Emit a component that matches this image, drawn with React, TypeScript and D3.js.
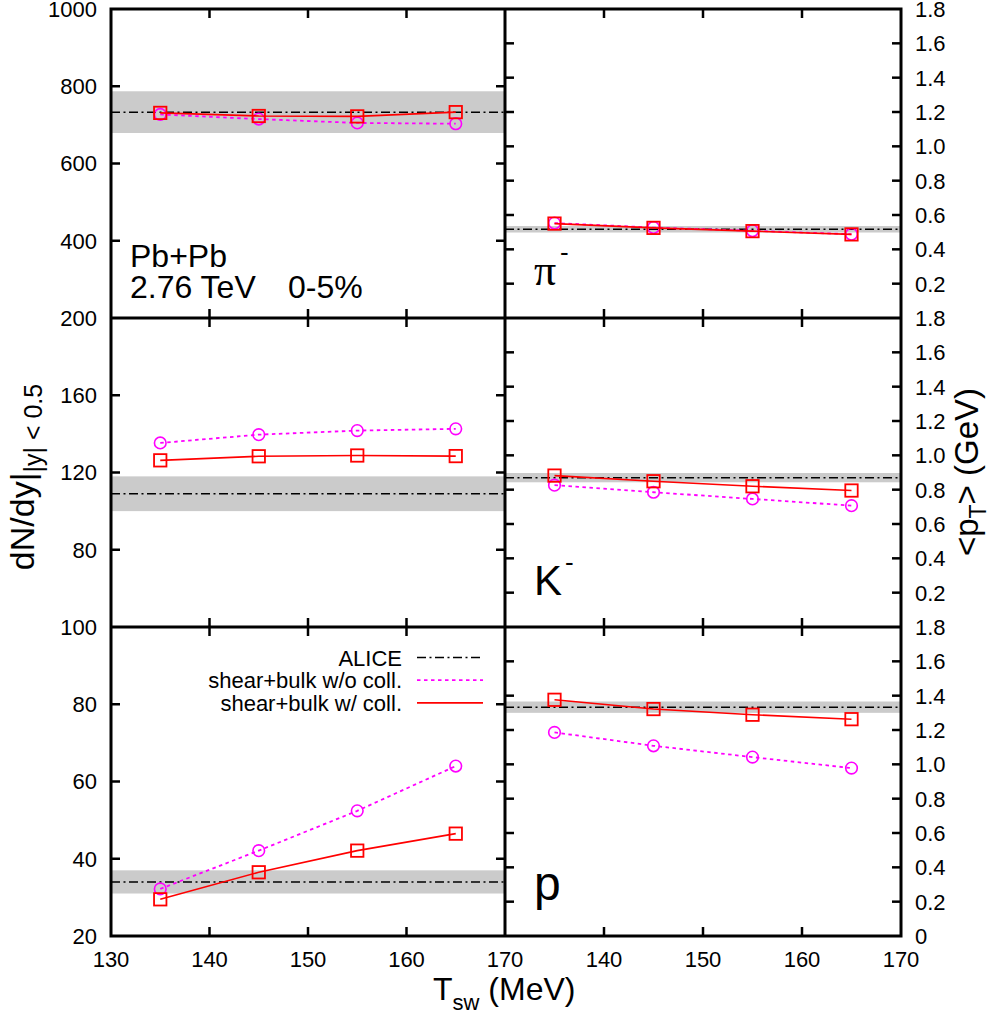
import React from 'react';
import * as d3 from 'd3';

// ---------------- data ----------------
const T_SW = [135, 145, 155, 165];
const X_TICKS = [130, 140, 150, 160, 170];

// dN/dy (left column)
const PI_YIELD_COLL = [731, 723, 722, 733];
const PI_YIELD_NOCOLL = [727, 715, 705, 703];
const K_YIELD_COLL = [126.3, 128.4, 128.8, 128.5];
const K_YIELD_NOCOLL = [135.3, 139.6, 141.7, 142.6];
const P_YIELD_COLL = [29.5, 36.5, 42.1, 46.5];
const P_YIELD_NOCOLL = [32.2, 42.1, 52.4, 64.0];

// <pT> (right column)
const PI_PT_COLL = [0.55, 0.525, 0.506, 0.487];
const PI_PT_NOCOLL = [0.553, 0.527, 0.508, 0.488];
const K_PT_COLL = [0.882, 0.849, 0.82, 0.795];
const K_PT_NOCOLL = [0.826, 0.785, 0.746, 0.707];
const P_PT_COLL = [1.376, 1.322, 1.289, 1.263];
const P_PT_NOCOLL = [1.186, 1.108, 1.042, 0.978];

// ALICE reference values (value, error)
const ALICE_YIELD = [733, 109, 34];
const ALICE_YIELD_ERR = [54, 9, 3];
const ALICE_PT = [0.517, 0.87, 1.333];
const ALICE_PT_ERR = [0.019, 0.027, 0.033];

// axis domains / ticks
const YIELD_DOMAINS: [number, number][] = [[200, 1000], [40, 200], [20, 100]];
const YIELD_TICKS = [
  [200, 400, 600, 800, 1000],
  [40, 80, 120, 160, 200],
  [20, 40, 60, 80, 100],
];
const YIELD_LABELS = [
  [400, 600, 800, 1000],
  [80, 120, 160, 200],
  [20, 40, 60, 80, 100],
];
const PT_DOMAIN: [number, number] = [0, 1.8];
const PT_TICKS = [0, 0.2, 0.4, 0.6, 0.8, 1.0, 1.2, 1.4, 1.6, 1.8];
const PT_LABELS = [
  [0.2, 0.4, 0.6, 0.8, 1.0, 1.2, 1.4, 1.6, 1.8],
  [0.2, 0.4, 0.6, 0.8, 1.0, 1.2, 1.4, 1.6, 1.8],
  [0, 0.2, 0.4, 0.6, 0.8, 1.0, 1.2, 1.4, 1.6, 1.8],
];

const LEGEND = ['ALICE', 'shear+bulk w/o coll.', 'shear+bulk w/ coll.'];

// ---------------- layout ----------------
const W = 991;
const H = 1016;
const XL0 = 111;
const XM = 505;
const XR1 = 901;
const Y_TOP = 9;
const PH = 309;
const FONT = "'Liberation Sans', Arial, Helvetica, sans-serif";
const TICK = 9;
const BAND = '#cbcbcb';
const RED = '#ff0000';
const MAG = '#ff00ff';

const xLeft = d3.scaleLinear().domain([130, 170]).range([XL0, XM]);
const xRight = d3.scaleLinear().domain([130, 170]).range([XM, XR1]);

const rows = [
  { yc: PI_YIELD_COLL, yn: PI_YIELD_NOCOLL, pc: PI_PT_COLL, pn: PI_PT_NOCOLL },
  { yc: K_YIELD_COLL, yn: K_YIELD_NOCOLL, pc: K_PT_COLL, pn: K_PT_NOCOLL },
  { yc: P_YIELD_COLL, yn: P_YIELD_NOCOLL, pc: P_PT_COLL, pn: P_PT_NOCOLL },
];

function Series({ x, y, xs, ys, kind }: any) {
  const line = d3.line<number>().x((d, i) => x(xs[i])).y((d) => y(d));
  const isColl = kind === 'coll';
  const color = isColl ? RED : MAG;
  return (
    <g>
      <path
        d={line(ys) || ''}
        fill="none"
        stroke={color}
        strokeWidth={isColl ? 1.6 : 1.8}
        strokeDasharray={isColl ? undefined : '3.5,3.5'}
      />
      {ys.map((v: number, i: number) =>
        isColl ? (
          <rect
            key={i}
            x={x(xs[i]) - 6.2}
            y={y(v) - 6.2}
            width={12.4}
            height={12.4}
            fill="none"
            stroke={color}
            strokeWidth={1.8}
          />
        ) : (
          <circle key={i} cx={x(xs[i])} cy={y(v)} r={5.8} fill="none" stroke={color} strokeWidth={1.6} />
        )
      )}
    </g>
  );
}

function Panel({ x, y, x0, x1, y0, y1, alice, err, coll, nocoll, ticks }: any) {
  const tickXs = X_TICKS.filter((t) => t > 130 && t < 170);
  const yd = y.domain();
  const tickYs = ticks.filter((t: number) => t > Math.min(...yd) + 1e-9 && t < Math.max(...yd) - 1e-9);
  return (
    <g>
      <rect x={x0} y={y(alice + err)} width={x1 - x0} height={y(alice - err) - y(alice + err)} fill={BAND} />
      <line
        x1={x0}
        x2={x1}
        y1={y(alice)}
        y2={y(alice)}
        stroke="#000"
        strokeWidth={1.5}
        strokeDasharray="9,3.5,2,3.5"
      />
      <Series x={x} y={y} xs={T_SW} ys={nocoll} kind="nocoll" />
      <Series x={x} y={y} xs={T_SW} ys={coll} kind="coll" />
      {tickXs.map((t) => (
        <g key={'xt' + t}>
          <line x1={x(t)} x2={x(t)} y1={y0} y2={y0 + TICK} stroke="#000" strokeWidth={2.5} />
          <line x1={x(t)} x2={x(t)} y1={y1} y2={y1 - TICK} stroke="#000" strokeWidth={2.5} />
        </g>
      ))}
      {tickYs.map((t: number) => (
        <g key={'yt' + t}>
          <line x1={x0} x2={x0 + TICK} y1={y(t)} y2={y(t)} stroke="#000" strokeWidth={2.5} />
          <line x1={x1} x2={x1 - TICK} y1={y(t)} y2={y(t)} stroke="#000" strokeWidth={2.5} />
        </g>
      ))}
    </g>
  );
}

export default function App() {
  return (
    <svg
      width={W}
      height={H}
      style={{ display: 'block', position: 'absolute', left: 0, top: 0, background: '#fff' }}
      fontFamily={FONT}
    >
      <rect x={0} y={0} width={W} height={H} fill="#fff" />
      {rows.map((r, i) => {
        const y0 = Y_TOP + i * PH;
        const y1 = y0 + PH;
        const yL = d3.scaleLinear().domain(YIELD_DOMAINS[i]).range([y1, y0]);
        const yR = d3.scaleLinear().domain(PT_DOMAIN).range([y1, y0]);
        return (
          <g key={i}>
            <Panel
              x={xLeft}
              y={yL}
              x0={XL0}
              x1={XM}
              y0={y0}
              y1={y1}
              alice={ALICE_YIELD[i]}
              err={ALICE_YIELD_ERR[i]}
              coll={r.yc}
              nocoll={r.yn}
              ticks={YIELD_TICKS[i]}
            />
            <Panel
              x={xRight}
              y={yR}
              x0={XM}
              x1={XR1}
              y0={y0}
              y1={y1}
              alice={ALICE_PT[i]}
              err={ALICE_PT_ERR[i]}
              coll={r.pc}
              nocoll={r.pn}
              ticks={PT_TICKS}
            />
            {YIELD_LABELS[i].map((t) => (
              <text key={'yl' + t} x={XL0 - 14} y={yL(t)} dy="0.36em" textAnchor="end" fontSize={22}>
                {t}
              </text>
            ))}
            {PT_LABELS[i].map((t) => (
              <text key={'pl' + t} x={XR1 + 14} y={yR(t)} dy="0.36em" textAnchor="start" fontSize={22}>
                {t === 0 ? '0' : d3.format('.1f')(t)}
              </text>
            ))}
          </g>
        );
      })}

      {/* borders */}
      <g fill="none" stroke="#000" strokeWidth={3}>
        <rect x={XL0} y={Y_TOP} width={XR1 - XL0} height={3 * PH} />
        <line x1={XM} x2={XM} y1={Y_TOP} y2={Y_TOP + 3 * PH} />
        <line x1={XL0} x2={XR1} y1={Y_TOP + PH} y2={Y_TOP + PH} />
        <line x1={XL0} x2={XR1} y1={Y_TOP + 2 * PH} y2={Y_TOP + 2 * PH} />
      </g>

      {/* x tick labels */}
      {X_TICKS.map((t) => (
        <text key={'xl' + t} x={xLeft(t)} y={Y_TOP + 3 * PH + 31} textAnchor="middle" fontSize={22}>
          {t}
        </text>
      ))}
      {X_TICKS.filter((t) => t > 130).map((t) => (
        <text key={'xr' + t} x={xRight(t)} y={Y_TOP + 3 * PH + 31} textAnchor="middle" fontSize={22}>
          {t}
        </text>
      ))}

      {/* axis titles */}
      <text x={433} y={1000} fontSize={32}>
        T<tspan fontSize={22} dy={10}>sw</tspan>
        <tspan dy={-10}> (MeV)</tspan>
      </text>
      <g transform="translate(34,477) rotate(-90)">
        <text x={0} y={0} textAnchor="middle" fontSize={34}>
          dN/dy|<tspan fontSize={25} dy={8}>|y| &lt; 0.5</tspan>
        </text>
      </g>
      <g transform="translate(978,472) rotate(-90)">
        <text x={0} y={0} textAnchor="middle" fontSize={33}>
          &lt;p<tspan fontSize={23} dy={8}>T</tspan>
          <tspan dy={-8}>&gt; (GeV)</tspan>
        </text>
      </g>

      {/* annotations */}
      <text x={130} y={267} fontSize={32}>Pb+Pb</text>
      <text x={130} y={298} fontSize={32}>
        2.76 TeV<tspan x={288}>0-5%</tspan>
      </text>
      <text x={534} y={285} fontSize={44} fontFamily="'Liberation Serif', 'Times New Roman', serif">π</text>
      <text x={560} y={261} fontSize={26}>-</text>
      <text x={534} y={595} fontSize={42}>K</text>
      <text x={565} y={571} fontSize={26}>-</text>
      <text x={534} y={900} fontSize={48}>p</text>

      {/* legend */}
      {LEGEND.map((label, i) => {
        const by = 665.5 + i * 22.7;
        const ly = by - 8;
        return (
          <g key={label}>
            <text x={402} y={by} textAnchor="end" fontSize={22}>
              {label}
            </text>
            <line
              x1={417}
              x2={483}
              y1={ly}
              y2={ly}
              stroke={i === 0 ? '#000' : i === 1 ? MAG : RED}
              strokeWidth={i === 0 ? 1.5 : i === 1 ? 1.8 : 1.6}
              strokeDasharray={i === 0 ? '9,3.5,2,3.5' : i === 1 ? '3.5,3.5' : undefined}
            />
          </g>
        );
      })}
    </svg>
  );
}
